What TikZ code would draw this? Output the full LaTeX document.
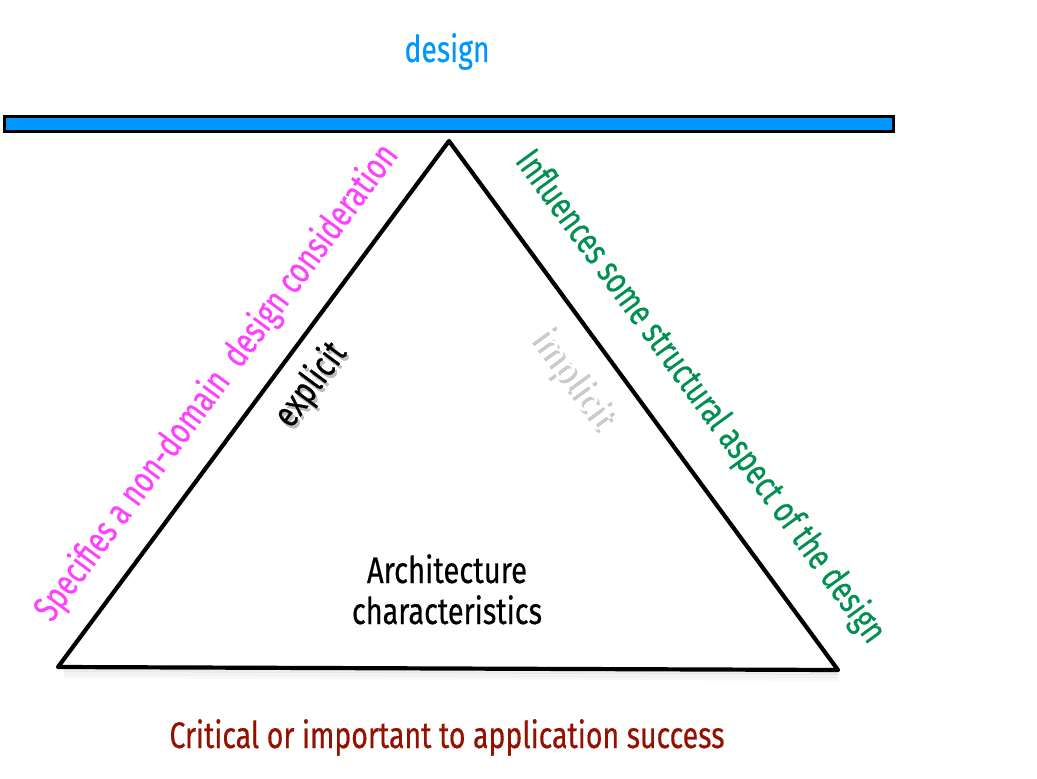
\documentclass[tikz,border=0pt]{standalone}
\usepackage{fontspec}
\setmainfont[FakeBold=0.5]{Fira Sans}
\usepackage{graphicx}
\usetikzlibrary{calc}
\definecolor{aqua}{HTML}{0096FF}
\definecolor{pinkc}{HTML}{FF40FF}
\definecolor{mossc}{HTML}{009051}
\definecolor{maroonc}{HTML}{941100}
\newcommand{\fitw}[2]{\resizebox{#1}{\height}{#2}}
\tikzset{
  lbl/.style={inner sep=0pt, font=\fontsize{37}{44}\selectfont},
  edge/.style={line width=4.2pt, line cap=round, line join=round, black},
}
\begin{document}
\begin{tikzpicture}[x=1pt,y=-1pt]
\useasboundingbox (0,0) rectangle (1037,779);
\fill[white] (0,0) rectangle (1037,779);
% design bar
\draw[line width=3pt, fill=aqua] (4,116) rectangle (893,131);
\node[lbl, text=aqua, anchor=base] (design) at (447,62) {\fitw{85pt}{design}};
% triangle
\coordinate (apex) at (449,141);
\coordinate (bl) at (58,667);
\coordinate (br) at (838,670);
% shadow under base
\foreach \o/\op in {3/0.12,6/0.08,9/0.05}{
  \draw[line width=4pt, gray, opacity=\op] ($(bl)+(6,\o)$) -- ($(br)+(0,\o)$);
}
\draw[edge] (bl) -- (apex) -- (br) -- cycle;
% side labels
\node[lbl, text=pinkc, rotate=53.4] (spec) at (217,383) {\fitw{583pt}{Specifies a non-domain\ \ design consideration}};
\node[lbl, text=mossc, rotate=-53.8] (infl) at (700,397) {\fitw{600pt}{Influences some structural aspect of the design}};
% explicit with shadow
\node[lbl, text=black, opacity=0.25, rotate=53.4] (explsh) at (313,388) {\fitw{95pt}{explicit}};
\node[lbl, text=black, rotate=53.4] (expl) at (311,385) {\fitw{95pt}{explicit}};
% implicit with shadow
\node[lbl, text=gray, opacity=0.4, rotate=-53.8] (implsh) at (573,381) {\fitw{115pt}{implicit}};
\node[lbl, text=white, rotate=-53.8] (impl) at (571,378) {\fitw{115pt}{implicit}};
% center text
\node[lbl, text=black, anchor=base] (arch1) at (447,583) {\fitw{160pt}{Architecture}};
\node[lbl, text=black, anchor=base] (arch2) at (447,624) {\fitw{190pt}{characteristics}};
% bottom
\node[lbl, text=maroonc, anchor=base] (crit) at (447,748) {\fitw{555pt}{Critical or important to application success}};
\end{tikzpicture}
\end{document}
